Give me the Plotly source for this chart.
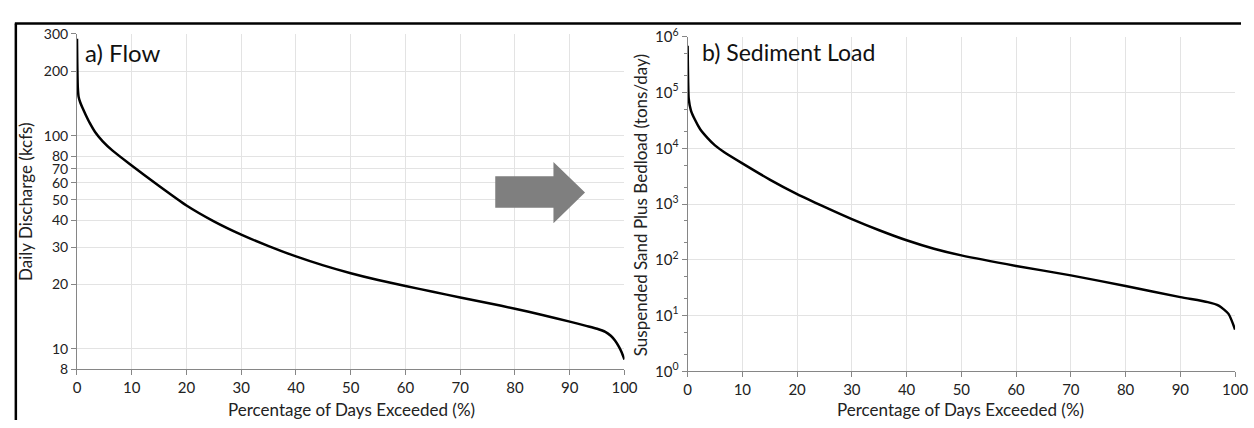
import plotly.graph_objects as go

# ---- data ----
flow_pct = [0, 0.05, 0.15, 0.3, 0.6, 1.0, 1.6, 2.3, 3.3, 4.7, 6.5, 9.5, 15, 20, 25,
            30, 35, 40, 45, 50, 55, 60, 65, 70, 75, 80, 85, 90, 93, 95, 96.5, 97.5,
            98.3, 99, 99.5, 100]
flow_kcfs = [285, 220, 168, 152, 143, 135, 125, 115, 104, 94, 85, 74, 58, 47, 39.6,
             34.3, 30.3, 27.1, 24.6, 22.6, 21.0, 19.7, 18.5, 17.4, 16.4, 15.4, 14.4, 13.4,
             12.8, 12.4, 12.0, 11.5, 10.9, 10.2, 9.6, 8.9]

sed_pct = [0, 0.05, 0.1, 0.2, 0.6, 1.3, 2.3, 3.7, 5, 6.7, 10, 15, 20, 25, 30, 35, 40,
           45, 50, 60, 70, 80, 90, 95, 97, 98.8, 100]
sed_tons = [690000, 300000, 150000, 77600, 48000, 33100, 22000, 15100, 11300, 8510, 5370,
            2750, 1510, 890, 537, 339, 224, 158, 120, 77.6, 52.5, 33.9, 21.4, 17.4, 15.1,
            10.7, 5.6]

flow_ticks = [8, 10, 20, 30, 40, 50, 60, 70, 80, 100, 200, 300]
sed_ticks = [1, 10, 100, 1000, 10000, 100000, 1000000]
sed_ticktext = ["10<sup>0</sup>", "10<sup>1</sup>", "10<sup>2</sup>", "10<sup>3</sup>",
                "10<sup>4</sup>", "10<sup>5</sup>", "10<sup>6</sup>"]
x_ticks = [0, 10, 20, 30, 40, 50, 60, 70, 80, 90, 100]

W, H = 1254, 428
FONT = "Lato"
AX = "#868686"
GRID = "#e3e3e3"
TXT = "#222"


def px(x):
    return x / W


def py(y):
    return (H - y) / H


fig = go.Figure()
fig.add_trace(go.Scatter(x=flow_pct, y=flow_kcfs, mode="lines",
                         line=dict(color="black", width=2.5, shape="spline", smoothing=0.6),
                         xaxis="x", yaxis="y", showlegend=False))
fig.add_trace(go.Scatter(x=sed_pct, y=sed_tons, mode="lines",
                         line=dict(color="black", width=2.5, shape="spline", smoothing=0.6),
                         xaxis="x2", yaxis="y2", showlegend=False))

common_x = dict(range=[0, 100], tickvals=x_ticks, showline=True, linecolor=AX, linewidth=1,
                ticks="outside", tickcolor=AX, ticklen=5, showgrid=True, gridcolor=GRID,
                zeroline=False, tickfont=dict(family=FONT, size=15, color=TXT))

fig.update_layout(
    width=W, height=H, margin=dict(l=0, r=0, t=0, b=0),
    paper_bgcolor="white", plot_bgcolor="white",
    font=dict(family=FONT, color=TXT),
    xaxis=dict(domain=[px(74), px(629)], anchor="y", **common_x),
    yaxis=dict(domain=[py(375), py(24)], anchor="x", type="log",
               range=[0.90309, 2.47712], tickvals=flow_ticks,
               ticktext=[str(v) for v in flow_ticks],
               showline=True, linecolor=AX, linewidth=1, ticks="outside", tickcolor=AX,
               ticklen=5, showgrid=True, gridcolor=GRID, zeroline=False,
               tickfont=dict(family=FONT, size=14, color=TXT)),
    xaxis2=dict(domain=[px(693), px(1248)], anchor="y2", **common_x),
    yaxis2=dict(domain=[py(377), py(27)], anchor="x2", type="log", range=[0, 6],
                tickvals=sed_ticks, ticktext=sed_ticktext,
                showline=True, linecolor=AX, linewidth=1, ticks="outside", tickcolor=AX,
                ticklen=5, showgrid=True, gridcolor=GRID, zeroline=False,
                minor=dict(ticks="outside", ticklen=3, tickcolor=AX, showgrid=False),
                tickfont=dict(family=FONT, size=15, color=TXT)),
)

ann = [
    dict(text="a) Flow", x=px(80), y=py(43), xanchor="left", yanchor="middle",
         font=dict(size=24, family=FONT, color="#111")),
    dict(text="b) Sediment Load", x=px(706), y=py(43), xanchor="left", yanchor="middle",
         font=dict(size=23, family=FONT, color="#111")),
    dict(text="Percentage of Days Exceeded (%)", x=px(352), y=py(417), xanchor="center",
         yanchor="middle", font=dict(size=17, family=FONT, color=TXT)),
    dict(text="Percentage of Days Exceeded (%)", x=px(970), y=py(417), xanchor="center",
         yanchor="middle", font=dict(size=17, family=FONT, color=TXT)),
    dict(text="Daily Discharge (kcfs)", x=px(21), y=py(199), textangle=-90,
         xanchor="center", yanchor="middle", font=dict(size=17, family=FONT, color=TXT)),
    dict(text="Suspended Sand Plus Bedload (tons/day)", x=px(646), y=py(203), textangle=-90,
         xanchor="center", yanchor="middle", font=dict(size=17, family=FONT, color=TXT)),
]
for a in ann:
    a.update(xref="paper", yref="paper", showarrow=False)
fig.update_layout(annotations=ann)

arrow_pts = [(498, 173), (557, 173), (557, 158), (589, 190), (557, 222), (557, 206), (498, 206)]
path = "M " + " L ".join(f"{px(x):.5f},{py(y):.5f}" for x, y in arrow_pts) + " Z"

shapes = [
    dict(type="path", path=path, xref="paper", yref="paper", fillcolor="#7f7f7f",
         line=dict(width=0)),
    dict(type="line", x0=px(11), x1=1, y0=py(13), y1=py(13), xref="paper", yref="paper",
         line=dict(color="black", width=2.5)),
    dict(type="line", x0=px(12), x1=px(12), y0=py(13), y1=0, xref="paper", yref="paper",
         line=dict(color="black", width=2.5)),
]
fig.update_layout(shapes=shapes)

fig.write_html("out.html")
